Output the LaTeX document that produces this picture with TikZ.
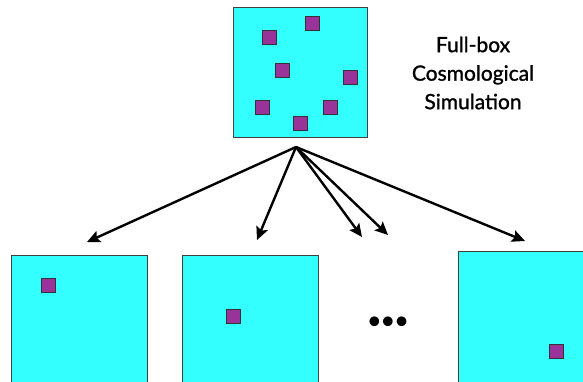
\documentclass[tikz,border=0pt]{standalone}
\usepackage{fontspec}
\setmainfont{Lato}
\newfontfamily\labelfont{Lato}[FakeBold=1.2]
\usetikzlibrary{arrows.meta, calc, positioning}

\definecolor{boxcyan}{HTML}{33FFFF}
\definecolor{halopurple}{HTML}{993399}

\begin{document}
\begin{tikzpicture}[x=1pt, y=-1pt,
  simbox/.style={draw=black!75, fill=boxcyan, line width=0.8pt, inner sep=0pt},
  halo/.style={draw=black!80, fill=halopurple, line width=0.8pt, inner sep=0pt, minimum size=14pt},
  zoomarrow/.style={line width=2.4pt, -{Stealth[length=13pt, width=12pt, inset=2.5pt]}}]

% Fix the page to the picture size
\useasboundingbox (0,0) rectangle (583,381);
\clip (0,0) rectangle (583,381);

% Full-box simulation at the top
\node[simbox, minimum width=134pt, minimum height=130pt] (full) at (300,72) {};
\foreach \x/\y [count=\i] in {312/23, 269/37.5, 282/70, 350/77.5,
                              262/107, 330/107, 300/123} {
    \node[halo] (h\i) at (\x,\y) {};
}

\node[align=center, font=\labelfont\fontsize{21}{28.5}\selectfont] (label) at (473,73)
  {Full-box\\Cosmological\\Simulation};

% Zoom-in boxes along the bottom
\node[simbox, minimum width=136pt, minimum height=136pt] (zoomA) at (79,323) {};
\node[simbox, minimum width=136pt, minimum height=136pt] (zoomB) at (250.5,323) {};
\node[simbox, minimum width=136pt, minimum height=136pt] (zoomC) at (526,319) {};
\node[halo] (hA) at (48,285) {};
\node[halo] (hB) at (233,316) {};
\node[halo] (hC) at (556,351) {};
\node[font=\fontsize{26}{26}\selectfont] (dots) at (388,323)
  {\textbullet\kern-1.5pt\textbullet\kern-1.5pt\textbullet};

% Arrows from the full box down to the zooms
\coordinate (apex) at (296,147);
\foreach \x/\y [count=\i] in {87/242, 257/240, 362/237, 388/235, 525/241} {
    \coordinate (tip\i) at (\x,\y);
    \draw[zoomarrow] (apex) -- (tip\i);
}

\end{tikzpicture}
\end{document}
